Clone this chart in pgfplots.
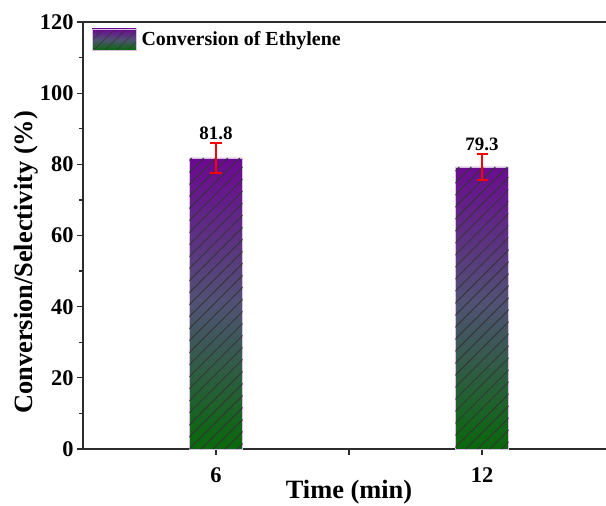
\documentclass[border=0pt]{standalone}
\usepackage{pgfplots}
\pgfplotsset{compat=1.18}
\usepackage{fontspec}
\setmainfont{Liberation Serif}
\usetikzlibrary{patterns.meta}
\definecolor{topc}{RGB}{108,8,146}
\definecolor{midc}{RGB}{80,82,116}
\definecolor{botc}{RGB}{8,104,10}
\definecolor{axc}{RGB}{45,45,45}
\begin{document}
\begin{tikzpicture}
\begin{axis}[
  name=ax,
  scale only axis,
  width=532bp, height=427bp,
  xmin=3, xmax=15, ymin=0, ymax=120,
  axis y line*=left, axis x line*=box,
  xtick={6,9,12}, xticklabels={6,,12},
  xtick pos=bottom,
  ytick={0,20,...,120},
  minor y tick num=1,
  tick align=outside,
  major tick length=6bp, minor tick length=4bp,
  axis line style={axc, line width=1.6pt},
  every tick/.style={axc, line width=1.2pt},
  /pgf/number format/assume math mode=true,
  ticklabel style={font=\fontsize{22.5}{24}\selectfont\bfseries},
  xticklabel style={yshift=-9bp},
  xlabel={Time (min)},
  ylabel={Conversion/Selectivity (\%)},
  label style={font=\fontsize{26.5}{28}\selectfont\bfseries},
  xlabel style={yshift=7bp, inner sep=1bp},
  ylabel style={at={(ticklabel cs:0.437)}, yshift=-5bp},
  legend style={at={(0.016,0.985)}, anchor=north west, draw=none, fill=none,
    font=\fontsize{20}{22}\selectfont\bfseries, inner sep=0pt, row sep=0pt},
  legend cell align=left,
  legend image code/.code={
    \fill[top color=topc, bottom color=botc, middle color=midc] (0bp,-10.5bp) rectangle (44bp,10.5bp);
    \fill[pattern={Lines[angle=45,distance=8bp,line width=0.8bp]}, pattern color=black!80, fill opacity=0.3] (0bp,-10.5bp) rectangle (44bp,10.5bp);
  },
]
\addplot[ybar, bar width=1.2, bar shift=0pt, draw=white!75!topc, line width=0.5pt,
  top color=topc, bottom color=botc, middle color=midc]
  coordinates {(6,81.8) (12,79.3)};
\addlegendentry{\hspace{3bp}Conversion of Ethylene}
\addplot[ybar, bar width=1.2, bar shift=0pt, draw=none, forget plot,
  pattern={Lines[angle=45,distance=8.5bp,line width=0.8bp]}, pattern color=black!80, fill opacity=0.3]
  coordinates {(6,81.8) (12,79.3)};
\addplot[draw=none, mark=none, forget plot,
  error bars/.cd, y dir=both, y explicit,
  error bar style={red, line width=2.2pt, opacity=1},
  error mark options={rotate=90, red, mark size=5.5bp, line width=2.2pt, opacity=1}]
  coordinates {(6,81.8) +- (0,4.2) (12,79.3) +- (0,3.7)};
\node[above, font=\fontsize{19}{21}\selectfont\bfseries, inner sep=3bp] at (axis cs:6,86.0) {81.8};
\node[above, font=\fontsize{19}{21}\selectfont\bfseries, inner sep=3bp] at (axis cs:12,83.0) {79.3};
\end{axis}
\pgfresetboundingbox
\path[use as bounding box] ([xshift=-83bp,yshift=-57bp]ax.south west) rectangle ([xshift=523bp,yshift=22bp]ax.north west);
\end{tikzpicture}
\end{document}
